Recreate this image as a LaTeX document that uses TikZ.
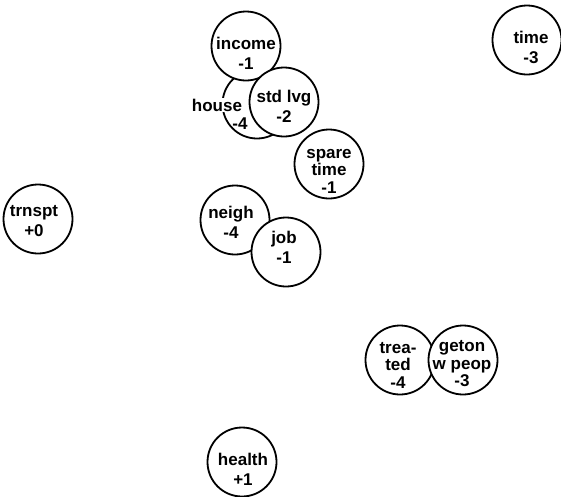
\documentclass[tikz,border=0pt]{standalone}
\usepackage{fontspec}
\setmainfont{Liberation Sans}
\usetikzlibrary{positioning}

\tikzset{
  blob/.style={circle, draw, fill=white, line width=1.8pt, minimum size=69pt, inner sep=0pt},
  tag/.style={align=center, inner sep=1pt, font=\fontsize{17}{20}\bfseries\selectfont},
  tagtight/.style={tag, font=\fontsize{17}{17.5}\bfseries\selectfont}
}

\begin{document}
\begin{tikzpicture}[x=1pt, y=-1pt]
  % page frame
  \useasboundingbox (0,0) rectangle (561,496);

  % house sits under income and std lvg
  \node[blob] (house) at (257,104) {};
  \node[blob] (income) at (246,46) {};
  \node[tag] (income-t) at (246,53) {income\\-1};
  \node[blob] (stdlvg) at (284,102) {};
  \node[tag] (stdlvg-t) at (284,106) {std lvg\\-2};
  \node[tag, fill=white] (house-t) at (217,105) {house};
  \node[tag] (house-n) at (240,124) {-4};

  % spare time
  \node[blob] (spare) at (329,164) {};
  \node[tagtight] (spare-t) at (329,171) {spare\\time\\-1};

  % time, top right corner
  \node[blob] (time) at (527,40) {};
  \node[tag] (time-t) at (531,47) {time\\-3};

  % transport, far left
  \node[blob] (trnspt) at (38,219) {};
  \node[tag] (trnspt-t) at (34,221) {trnspt\\+0};

  % neigh and job, job on top
  \node[blob] (neigh) at (235,220) {};
  \node[tag] (neigh-t) at (231,222) {neigh\\-4};
  \node[blob] (job) at (286,252) {};
  \node[tag] (job-t) at (284,247) {job\\-1};

  % treated and geton, geton on top
  \node[blob] (treated) at (400,360) {};
  \node[tagtight] (treated-t) at (398,365) {trea-\\ted\\-4};
  \node[blob] (geton) at (463,360) {};
  \node[tagtight] (geton-t) at (462,364) {geton\\w peop\\-3};

  % health, bottom
  \node[blob] (health) at (242,462) {};
  \node[tag] (health-t) at (243,469) {health\\+1};
\end{tikzpicture}
\end{document}
